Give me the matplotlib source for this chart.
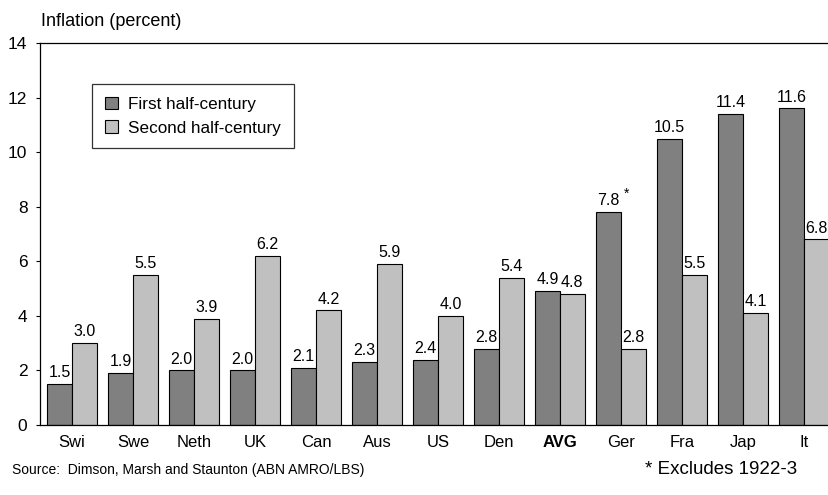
import numpy as np
import matplotlib
matplotlib.use('Agg')
from matplotlib import pyplot as plt

countries = ['Swi', 'Swe', 'Neth', 'UK', 'Can', 'Aus', 'US', 'Den', 'AVG', 'Ger', 'Fra', 'Jap', 'It']
first_half = [1.5, 1.9, 2.0, 2.0, 2.1, 2.3, 2.4, 2.8, 4.9, 7.8, 10.5, 11.4, 11.6]
second_half = [3.0, 5.5, 3.9, 6.2, 4.2, 5.9, 4.0, 5.4, 4.8, 2.8, 5.5, 4.1, 6.8]
yticks = [0, 2, 4, 6, 8, 10, 12, 14]

plt.rcParams['font.family'] = ['Liberation Sans', 'DejaVu Sans']

fig = plt.figure(figsize=(8.29, 4.95), dpi=100)
ax = fig.add_axes([40 / 829, 1 - 425 / 495, 1 - 40 / 829, (425 - 43) / 495])

x = np.arange(len(countries))
w = 0.405
b1 = ax.bar(x - w / 2, first_half, w, color='#808080', edgecolor='black', linewidth=0.8,
            label='First half-century')
b2 = ax.bar(x + w / 2, second_half, w, color='#c0c0c0', edgecolor='black', linewidth=0.8,
            label='Second half-century')

box = dict(facecolor='white', edgecolor='none', pad=0.5)
for bars, vals in ((b1, first_half), (b2, second_half)):
    for r, v in zip(bars, vals):
        ax.text(r.get_x() + r.get_width() / 2, v + 0.14, f'{v:.1f}', ha='center', va='bottom',
                fontsize=11.5, bbox=box)

# footnote marker on Germany
ger = countries.index('Ger')
ax.text(ger - w / 2 + 0.29, first_half[ger] + 0.66, '*', fontsize=10, ha='center', va='center')

ax.set_xlim(-0.525, 12.41)
ax.set_ylim(0, 14)
ax.set_yticks(yticks)
ax.set_yticklabels([str(t) for t in yticks], fontsize=12.5)
ax.set_xticks(x)
ax.set_xticklabels(countries, fontsize=12)
ax.get_xticklabels()[countries.index('AVG')].set_fontweight('bold')
ax.tick_params(axis='x', length=0, pad=7)
ax.tick_params(axis='y', length=3, direction='out', pad=6)
ax.spines['right'].set_visible(False)
for s in ('left', 'top', 'bottom'):
    ax.spines[s].set_linewidth(0.9)

leg = ax.legend(loc='upper left', bbox_to_anchor=(0.066, 0.893), borderaxespad=0, fontsize=12.3,
                frameon=True, fancybox=False, edgecolor='black', handlelength=0.75,
                handleheight=0.75, handletextpad=0.6, borderpad=0.75, labelspacing=0.5)
leg.get_frame().set_linewidth(0.9)

fig.text(41 / 829, 1 - 22 / 495, 'Inflation (percent)', fontsize=13, ha='left', va='center')
fig.text(12 / 829, 1 - 470 / 495, 'Source:  Dimson, Marsh and Staunton (ABN AMRO/LBS)',
         fontsize=10, ha='left', va='center')
fig.text(645 / 829, 1 - 470 / 495, '* Excludes 1922-3', fontsize=13.5, ha='left', va='center')

fig.savefig('out.png', dpi=100)
